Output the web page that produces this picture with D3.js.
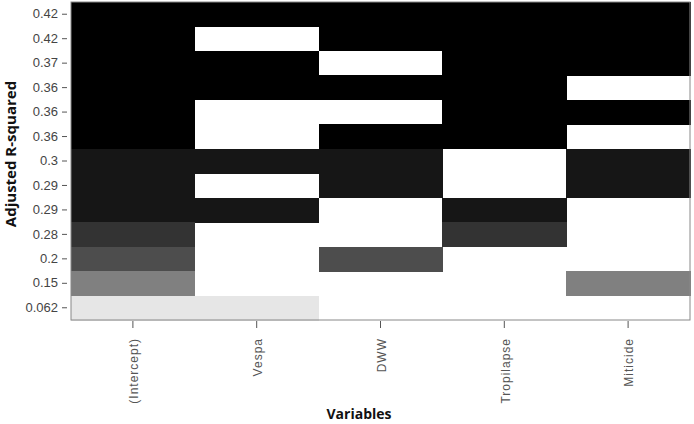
<!DOCTYPE html>
<html>
<head>
<meta charset="utf-8">
<script src="https://cdn.jsdelivr.net/npm/d3@7"></script>
<style>
  body { margin: 0; background: #fff; }
  .ytick text { font-family: "Liberation Sans Narrow", "Arial Narrow", "Liberation Sans", sans-serif; font-size: 13px; fill: #444; }
  .xtick text { font-family: "Liberation Sans", Arial, sans-serif; font-size: 12px; fill: #555; letter-spacing: 1px; }
  .title { font-family: "Open Sans", "Noto Sans", sans-serif; font-weight: bold; fill: #111; }
</style>
</head>
<body>
<svg id="chart" width="694" height="424"></svg>
<script>
// model variables (columns)
let variables = ["(Intercept)", "Vespa", "DWW", "Tropilapse", "Miticide"];
// adjusted R-squared labels, top row first
let adjr2Labels = ["0.42", "0.42", "0.37", "0.36", "0.36", "0.36", "0.3", "0.29", "0.29", "0.28", "0.2", "0.15", "0.062"];
let adjr2 = [0.424, 0.42, 0.37, 0.364, 0.362, 0.36, 0.30, 0.292, 0.288, 0.28, 0.20, 0.15, 0.062];
// which variables are in each model (1 = included), same order as rows
let included = [
  [1, 1, 1, 1, 1],
  [1, 0, 1, 1, 1],
  [1, 1, 0, 1, 1],
  [1, 1, 1, 1, 0],
  [1, 0, 0, 1, 1],
  [1, 0, 1, 1, 0],
  [1, 1, 1, 0, 1],
  [1, 0, 1, 0, 1],
  [1, 1, 0, 1, 0],
  [1, 0, 0, 1, 0],
  [1, 0, 1, 0, 0],
  [1, 0, 0, 0, 1],
  [1, 1, 0, 0, 0]
];

let svg = d3.select("#chart");
let margin = {top: 2, right: 4, bottom: 104, left: 71};
let W = 694, H = 424;

let rowIds = d3.range(adjr2.length);
let x = d3.scaleBand().domain(variables).range([margin.left, W - margin.right]);
let y = d3.scaleBand().domain(rowIds).range([margin.top, H - margin.bottom]);

let shade = d3.scaleThreshold()
  .domain([0.1, 0.17, 0.25, 0.285, 0.33])
  .range(["#e6e6e6", "#808080", "#4d4d4d", "#333333", "#161616", "#000000"]);

let cells = [];
included.forEach((row, i) => row.forEach((v, j) => {
  if (v) cells.push({row: i, col: variables[j]});
}));

// filled cells, slightly oversized so neighbours don't show seams
svg.append("g")
  .selectAll("rect")
  .data(cells)
  .join("rect")
  .attr("x", d => x(d.col))
  .attr("y", d => y(d.row))
  .attr("width", x.bandwidth() + 0.5)
  .attr("height", y.bandwidth() + 0.5)
  .attr("fill", d => shade(adjr2[d.row]))
  .attr("shape-rendering", "crispEdges");

// plot frame
svg.append("rect")
  .attr("x", margin.left).attr("y", margin.top)
  .attr("width", W - margin.left - margin.right)
  .attr("height", H - margin.top - margin.bottom)
  .attr("fill", "none").attr("stroke", "#888").attr("stroke-width", 1);

// y axis
let yAxis = svg.append("g")
  .attr("class", "ytick")
  .attr("transform", `translate(${margin.left - 4},0)`)
  .call(d3.axisLeft(y).tickSize(5).tickPadding(4).tickFormat(i => adjr2Labels[i]));
yAxis.select(".domain").remove();
yAxis.selectAll("line").attr("stroke", "#555");

// x axis
let xAxis = svg.append("g")
  .attr("class", "xtick")
  .attr("transform", `translate(0,${H - margin.bottom + 1})`)
  .call(d3.axisBottom(x).tickSize(7).tickPadding(6));
xAxis.select(".domain").remove();
xAxis.selectAll("line").attr("stroke", "#555");
xAxis.selectAll("text")
  .attr("transform", "rotate(-90)")
  .attr("text-anchor", "end")
  .attr("x", -17)
  .attr("y", 1)
  .attr("dy", "0.35em");

// titles
svg.append("text")
  .attr("class", "title")
  .attr("x", 359).attr("y", 419)
  .attr("text-anchor", "middle")
  .style("font-size", "14px")
  .text("Variables");

svg.append("text")
  .attr("class", "title")
  .attr("transform", "translate(16,154) rotate(-90)")
  .attr("text-anchor", "middle")
  .style("font-size", "15px")
  .text("Adjusted R-squared");
</script>
</body>
</html>
